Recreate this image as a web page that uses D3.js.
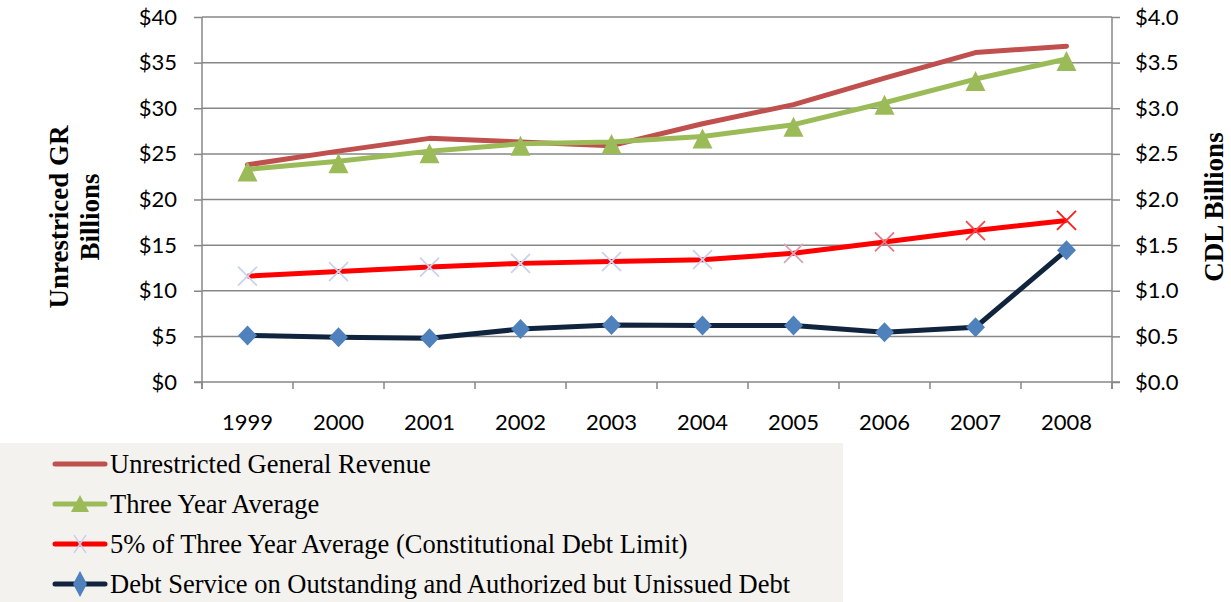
<!DOCTYPE html>
<html><head><meta charset="utf-8">
<script src="https://cdn.jsdelivr.net/npm/d3@7"></script>
<style>body{margin:0;background:#fff;}svg{display:block;}</style>
</head><body>
<svg id="c" width="1231" height="602"></svg>
<script>
const years = ["1999","2000","2001","2002","2003","2004","2005","2006","2007","2008"];
const unrestrictedGR = [23.8,25.3,26.7,26.3,25.9,28.3,30.4,33.3,36.1,36.8];
const threeYearAvg = [23.3,24.2,25.3,26.1,26.3,26.9,28.2,30.6,33.2,35.4];
const cdlLimit = [1.16,1.21,1.26,1.30,1.32,1.34,1.41,1.535,1.66,1.77];
const debtService = [0.51,0.49,0.48,0.58,0.625,0.62,0.62,0.545,0.60,1.445];
const leftTicks = [0,5,10,15,20,25,30,35,40];
const rightTicks = [0,0.5,1,1.5,2,2.5,3,3.5,4];
const legendLabels = ["Unrestricted General Revenue","Three Year Average","5% of Three Year Average (Constitutional Debt Limit)","Debt Service on Outstanding and Authorized but Unissued Debt"];

const svg = d3.select("#c");
const L = 202, R = 1112, T = 17, B = 382;
const x = d3.scaleBand().domain(years).range([L, R]);
const yL = d3.scaleLinear().domain([0,40]).range([B, T]);
const yR = d3.scaleLinear().domain([0,4]).range([B, T]);
const cx = d => x(d) + x.bandwidth()/2;
const gridCol = "#878787";

// legend background
svg.append("rect").attr("x",0).attr("y",443).attr("width",843).attr("height",159).attr("fill","#f3f2ee");

// gridlines
svg.append("g").selectAll("line").data(leftTicks.filter(d=>d>0)).join("line")
  .attr("x1",L).attr("x2",R).attr("y1",d=>yL(d)).attr("y2",d=>yL(d))
  .attr("stroke",gridCol).attr("stroke-width",1.5);

const tickFont = "Lato, sans-serif";
const gl = svg.append("g").attr("transform",`translate(${L},0)`)
  .call(d3.axisLeft(yL).tickValues(leftTicks).tickFormat(d=>"$"+d).tickSize(8).tickPadding(17));
const gr = svg.append("g").attr("transform",`translate(${R},0)`)
  .call(d3.axisRight(yR).tickValues(rightTicks).tickFormat(d=>"$"+d.toFixed(1)).tickSize(8).tickPadding(15));
const gb = svg.append("g").attr("transform",`translate(0,${B})`)
  .call(d3.axisBottom(x).tickSize(0).tickPadding(32));
svg.append("g").selectAll("line").data(d3.range(years.length+1)).join("line")
  .attr("x1",i=>L + i*x.step()).attr("x2",i=>L + i*x.step())
  .attr("y1",B).attr("y2",B+7).attr("stroke",gridCol).attr("stroke-width",1.5);

[gl,gr,gb].forEach(g=>{
  g.select(".domain").attr("stroke",gridCol).attr("stroke-width",1.5);
  g.selectAll(".tick line").attr("stroke",gridCol).attr("stroke-width",1.5);
  g.selectAll("text").attr("font-family",tickFont).attr("font-size",22).attr("fill","#000");
});
gb.select(".domain").attr("d",`M${L-8},0H${R+8}`);
gl.select(".domain").attr("d",`M0,${B+7}V${T}`);
gr.select(".domain").attr("d",`M0,${B+7}V${T}`);

// axis titles
const titleFont = "Liberation Serif, serif";
[["Unrestriced GR",68,217],["Billions",99,217],["CDL Billions",1223,207]].forEach(([t,tx,ty])=>{
  svg.append("text").attr("transform",`translate(${tx},${ty}) rotate(-90)`).attr("text-anchor","middle")
    .attr("font-family",titleFont).attr("font-weight","bold").attr("font-size",27).attr("fill","#000").text(t);
});

const line = y => d3.line().x((d,i)=>cx(years[i])).y(d=>y(d));

svg.append("path").datum(unrestrictedGR).attr("d",line(yL)).attr("fill","none")
  .attr("stroke","#c0504d").attr("stroke-width",5).attr("stroke-linejoin","round").attr("stroke-linecap","round");
svg.append("path").datum(threeYearAvg).attr("d",line(yL)).attr("fill","none")
  .attr("stroke","#9bbb59").attr("stroke-width",5).attr("stroke-linejoin","round");
svg.append("path").datum(cdlLimit).attr("d",line(yR)).attr("fill","none")
  .attr("stroke","#ff0000").attr("stroke-width",5).attr("stroke-linejoin","round");
svg.append("path").datum(debtService).attr("d",line(yR)).attr("fill","none")
  .attr("stroke","#10243e").attr("stroke-width",5).attr("stroke-linejoin","round");

// markers
const triPath = "M0,-8L10,12L-10,12Z";
svg.append("g").selectAll("path").data(threeYearAvg).join("path")
  .attr("d",triPath).attr("transform",(d,i)=>`translate(${cx(years[i])},${yL(d)})`).attr("fill","#9bbb59");

const xColor = i => i<=5 ? "#c9d3ee" : d3.interpolateRgb("#c9d3ee","#ff1a1a")((i-5)/4);
svg.append("g").selectAll("path").data(cdlLimit).join("path")
  .attr("d","M-9.5,-9.5L9.5,9.5M-9.5,9.5L9.5,-9.5")
  .attr("transform",(d,i)=>`translate(${cx(years[i])},${yR(d)})`)
  .attr("stroke",(d,i)=>xColor(i)).attr("stroke-width",1.8).attr("fill","none");

const diaPath = "M0,-10L9.5,0L0,10L-9.5,0Z";
svg.append("g").selectAll("path").data(debtService).join("path")
  .attr("d",diaPath).attr("transform",(d,i)=>`translate(${cx(years[i])},${yR(d)})`).attr("fill","#4f81bd");

// legend
const lcol = ["#c0504d","#9bbb59","#ff0000","#10243e"];
const lg = svg.append("g").selectAll("g").data(legendLabels).join("g")
  .attr("transform",(d,i)=>`translate(0,${464 + i*40})`);
lg.append("line").attr("x1",55).attr("x2",105).attr("y1",0).attr("y2",0)
  .attr("stroke",(d,i)=>lcol[i]).attr("stroke-width",5).attr("stroke-linecap","round");
lg.filter((d,i)=>i===1).append("path").attr("d","M0,-9L9,8L-9,8Z").attr("transform","translate(80,0)").attr("fill","#9bbb59");
lg.filter((d,i)=>i===2).append("path").attr("d","M-6,-9L6,9M-6,9L6,-9").attr("transform","translate(80,0)").attr("stroke","#c9d3ee").attr("stroke-width",1.5);
lg.filter((d,i)=>i===3).append("path").attr("d","M0,-13L7,0L0,13L-7,0Z").attr("transform","translate(80,0)").attr("fill","#4f81bd");
lg.append("text").attr("x",110).attr("y",9).attr("font-family","Liberation Serif, serif").attr("font-size",26.5).attr("fill","#000").text(d=>d);
</script>
</body></html>
